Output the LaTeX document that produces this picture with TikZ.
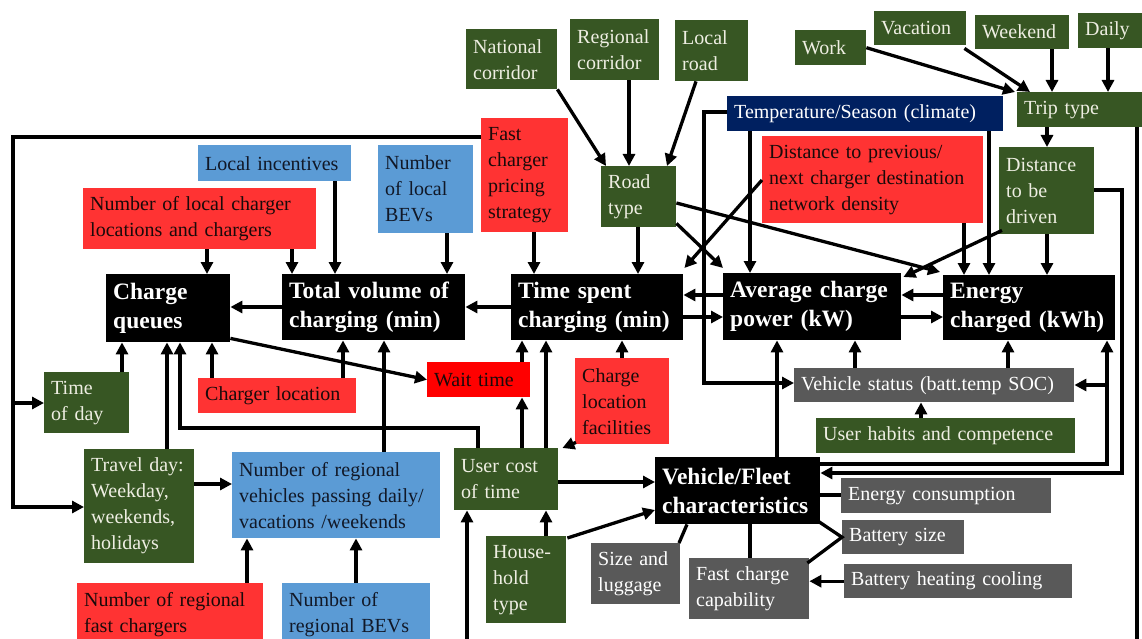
\documentclass[tikz,border=0pt]{standalone}
\usepackage{fontspec}
\setmainfont{Liberation Serif}
\usetikzlibrary{arrows.meta,calc}
\definecolor{grn}{HTML}{375623}
\definecolor{grtx}{HTML}{EEEEE2}
\definecolor{rd}{HTML}{FF3333}
\definecolor{rdtx}{HTML}{1A0A0A}
\definecolor{bl}{HTML}{5B9BD5}
\definecolor{bltx}{HTML}{111827}
\definecolor{nv}{HTML}{002060}
\definecolor{gy}{HTML}{595959}
\newcommand\rg{\fontsize{20}{26}\selectfont}
\newcommand\bd{\fontsize{23.5}{29}\selectfont\bfseries}
\newcommand\BX[7]{%
  \pgfmathsetmacro\bxw{#5-#3}\pgfmathsetmacro\bxh{#6-#4}\pgfmathsetmacro\bxtw{#5-#3-14}%
  \node[#2, minimum width=\bxw pt, minimum height=\bxh pt, text width=\bxtw pt, anchor=north west] (#1) at (#3,#4) {#7};}
\tikzset{
  box/.style={inner xsep=7pt, inner ysep=0pt, align=left, font=\rg},
  gr/.style={box, fill=grn, text=grtx},
  rdb/.style={box, fill=rd, text=rdtx},
  wtb/.style={box, fill=red, text=rdtx},
  blb/.style={box, fill=bl, text=bltx},
  nvb/.style={box, fill=nv, text=white},
  gyb/.style={box, fill=gy, text=white},
  bk/.style={box, fill=black, text=white, font=\bd},
  ln/.style={line width=3.3pt},
  arr/.style={ln, -{Triangle[length=12pt,width=12pt]}}
}
\begin{document}
\begin{tikzpicture}[x=1pt,y=-1pt]
\useasboundingbox (0,0) rectangle (1142,639);
\clip (0,0) rectangle (1142,639);
% top row
\BX{natc}{gr}{466}{29}{557}{89}{National\\corridor}
\BX{regc}{gr}{570}{19}{659}{80}{Regional\\corridor}
\BX{locr}{gr}{675}{20}{748}{81}{Local\\road}
\BX{work}{gr}{795}{30}{866}{65}{Work}
\BX{vac}{gr}{874}{11}{966}{45}{Vacation}
\BX{wknd}{gr}{975}{15}{1069}{49}{Weekend}
\BX{daily}{gr}{1078}{13}{1150}{48}{Daily}
\BX{trip}{gr}{1017}{92}{1150}{127}{Trip type}
\BX{temp}{nvb}{727}{96}{1003}{131}{Temperature/Season (climate)}
\BX{dist}{gr}{999}{147}{1094}{234}{Distance\\to be\\driven}
\BX{dprev}{rdb}{762}{136}{983}{223}{Distance to previous/\\next charger destination\\network density}
\BX{road}{gr}{601}{166}{676}{227}{Road\\type}
\BX{fcp}{rdb}{481}{118}{568}{232}{Fast\\charger\\pricing\\strategy}
\BX{nlb}{blb}{378}{145}{473}{233}{Number\\of local\\BEVs}
\BX{linc}{blb}{198}{145}{351}{181}{Local incentives}
\BX{nlc}{rdb}{83}{188}{316}{249}{Number of local charger\\locations and chargers}
% black row
\BX{cq}{bk}{106}{274}{230}{342}{Charge\\queues}
\BX{tv}{bk}{282}{274}{465}{340}{Total volume of\\charging (min)}
\BX{ts}{bk}{511}{274}{683}{340}{Time spent\\charging (min)}
\BX{acp}{bk}{723}{273}{901}{340}{Average charge\\power (kW)}
\BX{ec}{bk}{943}{275}{1115}{340}{Energy\\charged (kWh)}
% lower
\BX{tod}{gr}{44}{372}{129}{433}{Time\\of day}
\BX{cl}{rdb}{198}{378}{356}{413}{Charger location}
\BX{wt}{wtb}{427}{362}{530}{397}{Wait time}
\BX{clf}{rdb}{575}{358}{669}{444}{Charge\\location\\facilities}
\BX{vs}{gyb}{794}{368}{1074}{402}{Vehicle status (batt.temp SOC)}
\BX{uh}{gr}{816}{418}{1075}{453}{User habits and competence}
\BX{td}{gr}{84}{449}{194}{563}{Travel day:\\Weekday,\\weekends,\\holidays}
\BX{nrv}{blb}{232}{452}{440}{538}{Number of regional\\vehicles passing daily/\\vacations /weekends}
\BX{uct}{gr}{454}{448}{558}{510}{User cost\\of time}
\BX{vf}{bk}{655}{457}{820}{524}{Vehicle/Fleet\\characteristics}
\BX{econ}{gyb}{841}{478}{1051}{513}{Energy consumption}
\BX{bs}{gyb}{842}{520}{964}{554}{Battery size}
\BX{bhc}{gyb}{844}{564}{1072}{598}{Battery heating cooling}
\BX{fcc}{gyb}{689}{558}{809}{619}{Fast charge\\capability}
\BX{sl}{gyb}{591}{543}{680}{604}{Size and\\luggage}
\BX{hh}{gr}{486}{536}{566}{623}{House-\\hold\\type}
\BX{nrfc}{rdb}{77}{583}{263}{645}{Number of regional\\fast chargers}
\BX{nrb}{blb}{282}{583}{430}{645}{Number of\\regional BEVs}
\coordinate (bot1) at (1137,650);
\coordinate (bot2) at (467,650);
% connectors top
\draw[arr] (natc.south east) -- ($(road.north west)+(5,0)$);
\draw[arr] (regc.south -| 629,0) -- (road.north -| 629,0);
\draw[arr] (locr.south -| 696,0) -- (road.north -| 667,0);
\draw[arr] (work.east) -- ($(trip.north west)+(-2,0)$);
\draw[arr] ($(vac.south east)+(-2,3)$) -- (trip.north -| 1030,0);
\draw[arr] (wknd.south -| 1052,0) -- (trip.north -| 1052,0);
\draw[arr] (daily.south -| 1108,0) -- (trip.north -| 1108,0);
\draw[arr] (trip.south -| 1047,0) -- (dist.north -| 1047,0);
\draw[ln] (trip.south -| 1137,0) -- (bot1);
\draw[arr] (dist.east |- 0,190) -- (1122,190) -- (1122,473) -- (vf.east |- 0,473);
\draw[arr] (vf.east |- 0,464) -- (1107,464) -- (ec.south -| 1107,0);
\draw[arr] (1107,385) -- (vs.east |- 0,385);
\draw[arr] (nlc.south -| 207,0) -- (cq.north -| 207,0);
\draw[arr] (nlc.south -| 292,0) -- (tv.north -| 292,0);
\draw[arr] (linc.south -| 335,0) -- (tv.north -| 335,0);
\draw[arr] (nlb.south -| 447,0) -- (tv.north -| 447,0);
\draw[arr] (fcp.south -| 534,0) -- (ts.north -| 534,0);
\draw[arr] (fcp.west |- 0,137) -- (13,137) -- (13,507) -- (td.west |- 0,507);
\draw[arr] (13,403) -- (tod.west |- 0,403);
\draw[arr] (tv.west |- 0,307) -- (cq.east |- 0,307);
\draw[arr] (ts.west |- 0,307) -- (tv.east |- 0,307);
\draw[arr] (acp.west |- 0,295) -- (ts.east |- 0,295);
\draw[arr] (ts.east |- 0,317) -- (acp.west |- 0,317);
\draw[arr] (ec.west |- 0,295) -- (acp.east |- 0,295);
\draw[arr] (acp.east |- 0,317) -- (ec.west |- 0,317);
\draw[arr] (road.south -| 638,0) -- (ts.north -| 638,0);
\draw[arr] ($(road.south east)+(0,-4)$) -- ($(acp.north west)+(0,-5)$);
\draw[arr] (road.east |- 0,203) -- ($(ec.north west)+(-3,-3)$);
\draw[arr] (dprev.west |- 0,180) -- ($(ts.north east)+(1,-6)$);
\draw[arr] (dprev.south -| 964,0) -- (ec.north -| 964,0);
\draw[arr] (temp.south -| 750,0) -- (acp.north -| 750,0);
\draw[arr] (temp.south -| 989,0) -- (ec.north -| 989,0);
\draw[arr] (temp.west |- 0,112) -- (704,112) -- (704,383) -- (vs.west |- 0,383);
\draw[arr] ($(dist.south west)+(3,-4)$) -- ($(acp.north east)+(2,4)$);
\draw[arr] (dist.south -| 1047,0) -- (ec.north -| 1047,0);
\draw[arr] (vs.north -| 855,0) -- (acp.south -| 855,0);
\draw[arr] (vs.north -| 1008,0) -- (ec.south -| 1008,0);
\draw[arr] (uh.north -| 921,0) -- (vs.south -| 921,0);
% lower connectors
\draw[arr] (vf.north -| 777,0) -- (acp.south -| 777,0);
\draw[ln] (vf.east |- 0,495) -- (econ.west |- 0,495);
\draw[ln] ($(vf.south east)+(-2,-3)$) -- (bs.west) -- ($(fcc.north east)+(-2,5)$);
\draw[arr] (bhc.west) -- (fcc.east |- bhc.west);
\draw[ln] (vf.south -| 750,0) -- (fcc.north -| 750,0);
\draw[ln] (vf.south -| 687,0) -- (sl.north -| 679,0);
\draw[arr] ($(hh.north east)+(1,2)$) -- (vf.west |- 0,510);
\draw[arr] (hh.north -| 546,0) -- (uct.south -| 546,0);
\draw[arr] (uct.east |- 0,482) -- (vf.west |- 0,482);
\draw[arr] (uct.north -| 522,0) -- (wt.south -| 522,0);
\draw[arr] (uct.north -| 546,0) -- (ts.south -| 546,0);
\draw[arr] (uct.north -| 478,0) -- (478,428) -- (180,428) -- (cq.south -| 180,0);
\draw[arr] (wt.north -| 522,0) -- (ts.south -| 522,0);
\draw[arr] (clf.north -| 622,0) -- (ts.south -| 622,0);
\draw[arr] ($(clf.south west)+(1,-2)$) -- ($(uct.north east)+(4,0)$);
\draw[arr] (bot2) -- (uct.south -| 467,0);
\draw[arr] ($(cq.south east)+(0,-4)$) -- (wt.west);
\draw[arr] (cl.north -| 212,0) -- (cq.south -| 212,0);
\draw[arr] (cl.north -| 343,0) -- (tv.south -| 343,0);
\draw[arr] (tod.north -| 122,0) -- (cq.south -| 122,0);
\draw[arr] (td.north -| 167,0) -- (cq.south -| 167,0);
\draw[arr] (nrv.north -| 384,0) -- (tv.south -| 384,0);
\draw[arr] (td.east |- 0,484) -- (nrv.west |- 0,484);
\draw[arr] (nrfc.north -| 247,0) -- (nrv.south -| 247,0);
\draw[arr] (nrb.north -| 356,0) -- (nrv.south -| 356,0);
\end{tikzpicture}
\end{document}
